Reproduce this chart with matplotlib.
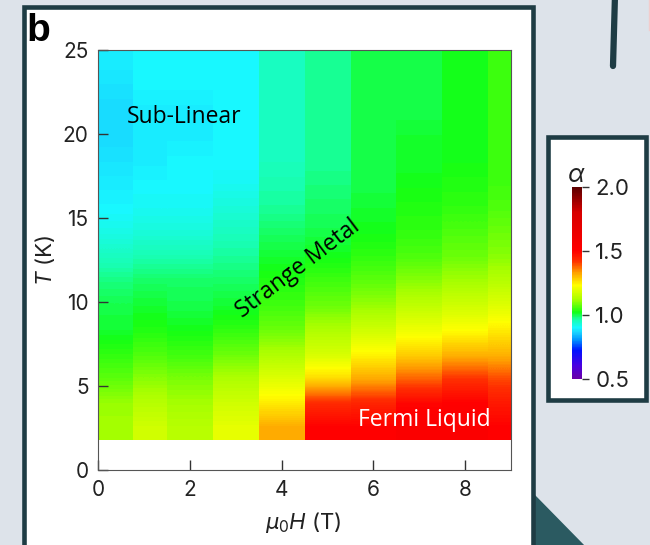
import numpy as np
import matplotlib
matplotlib.use("Agg")
import matplotlib.pyplot as plt
from matplotlib.colors import LinearSegmentedColormap, Normalize
from matplotlib.patches import Rectangle, Polygon
from matplotlib.lines import Line2D
from matplotlib.cm import ScalarMappable

plt.rcParams['font.family'] = ['Inter', 'DejaVu Sans']
plt.rcParams['mathtext.fontset'] = 'custom'
plt.rcParams['mathtext.rm'] = 'Inter'
plt.rcParams['mathtext.it'] = 'Inter:italic'

# field columns (T) and temperature range (K)
field_edges = [0.0, 0.75, 1.5, 2.5, 3.5, 4.5, 5.5, 6.5, 7.5, 8.5, 9.0]
t_min, t_max = 1.8, 25.0

# exponent alpha per field column, rows from low to high temperature
alpha_cols = [
    [1.12, 1.11, 1.07, 1.04, 1.01, 1.00, 0.98, 0.95, 0.92, 0.90, 0.89, 0.88, 0.87, 0.87, 0.88, 0.89],
    [1.17, 1.14, 1.10, 1.06, 1.03, 1.01, 0.99, 0.96, 0.93, 0.91, 0.90, 0.89, 0.89, 0.89, 0.90, 0.90],
    [1.14, 1.12, 1.09, 1.05, 1.02, 1.00, 0.99, 0.96, 0.93, 0.91, 0.90, 0.90, 0.89, 0.89, 0.90, 0.90],
    [1.20, 1.17, 1.13, 1.08, 1.04, 1.01, 0.99, 0.97, 0.95, 0.93, 0.91, 0.90, 0.90, 0.90, 0.90, 0.90],
    [1.32, 1.25, 1.19, 1.13, 1.08, 1.05, 1.03, 1.01, 0.99, 0.97, 0.96, 0.95, 0.95, 0.95, 0.95, 0.95],
    [1.50, 1.43, 1.27, 1.18, 1.13, 1.08, 1.05, 1.02, 1.00, 0.99, 0.98, 0.97, 0.97, 0.97, 0.97, 0.97],
    [1.50, 1.44, 1.32, 1.24, 1.17, 1.11, 1.07, 1.04, 1.02, 1.01, 1.00, 1.00, 1.00, 1.00, 1.00, 1.00],
    [1.53, 1.49, 1.38, 1.28, 1.21, 1.15, 1.10, 1.06, 1.04, 1.03, 1.02, 1.01, 1.01, 1.00, 1.00, 1.00],
    [1.53, 1.50, 1.42, 1.31, 1.23, 1.17, 1.12, 1.08, 1.06, 1.04, 1.03, 1.02, 1.02, 1.02, 1.02, 1.02],
    [1.50, 1.46, 1.40, 1.31, 1.25, 1.19, 1.14, 1.10, 1.08, 1.06, 1.05, 1.05, 1.05, 1.05, 1.05, 1.05],
]

cbar_ticks = [0.5, 1.0, 1.5, 2.0]

# rainbow map for alpha
stops = [(0.5, '#6a00a8'), (0.6, '#4a00e0'), (0.72, '#0010ff'), (0.8, '#0090ff'),
         (0.86, '#18d2ff'), (0.9, '#18f8ff'), (0.96, '#18ffb0'), (1.02, '#14ff14'),
         (1.12, '#a8ff00'), (1.23, '#ffff00'), (1.33, '#ffa000'), (1.42, '#ff3000'),
         (1.5, '#ff0000'), (1.8, '#d80000'), (2.0, '#5a0000')]
cmap = LinearSegmentedColormap.from_list(
    'alpha_rainbow', [((v - 0.5) / 1.5, c) for v, c in stops])
norm = Normalize(0.5, 2.0)

W, H = 650, 545
fig = plt.figure(figsize=(6.5, 5.45), dpi=100)
fig.patch.set_facecolor('#dde3ea')

def fx(px):
    return px / W

def fy(py):
    return 1 - py / H

dark = '#1e3c44'

# background decorations
fig.add_artist(Polygon([(fx(535), fy(495)), (fx(587), fy(548)), (fx(535), fy(548))],
                       closed=True, facecolor='#2b5a61', edgecolor='none',
                       transform=fig.transFigure, zorder=-3))
fig.add_artist(Line2D([fx(615), fx(613)], [fy(-5), fy(66)], color=dark, lw=4.5,
                      solid_capstyle='round', transform=fig.transFigure, zorder=-3))
fig.add_artist(Line2D([fx(649), fx(649)], [fy(0), fy(30)], color='#f2cccc', lw=1,
                      transform=fig.transFigure, zorder=-3))

# white panels with dark frames
fig.add_artist(Rectangle((fx(24), fy(560)), fx(533) - fx(24), fy(7) - fy(560),
                         facecolor='white', edgecolor=dark, lw=3.3,
                         transform=fig.transFigure, zorder=-1))
fig.add_artist(Rectangle((fx(548), fy(400)), fx(646) - fx(548), fy(137) - fy(400),
                         facecolor='white', edgecolor=dark, lw=3.3,
                         transform=fig.transFigure, zorder=-1))

ax = fig.add_axes([fx(98.3), fy(470), fx(511) - fx(98.3), fy(50.3) - fy(470)])
ax.set_facecolor('white')

for i, col in enumerate(alpha_cols):
    data = np.array(col)[::-1].reshape(-1, 1)
    ax.imshow(data, cmap=cmap, norm=norm, aspect='auto', origin='upper',
              extent=[field_edges[i], field_edges[i + 1], t_min, t_max],
              interpolation='bilinear', interpolation_stage='data')

ax.set_xlim(0, 9)
ax.set_ylim(0, 25)
ax.set_xticks([0, 2, 4, 6, 8])
ax.set_yticks([0, 5, 10, 15, 20, 25])
ax.tick_params(direction='in', length=7, width=1, labelsize=15, pad=7,
               color='#333333', labelcolor='#222222')
ax.tick_params(axis='x', pad=7)
for s in ax.spines.values():
    s.set_color('#555555')
    s.set_linewidth(0.8)

ax.set_xlabel(r'$\mu_0H$ (T)', fontsize=16, color='#222222')
ax.set_ylabel(r'$T$ (K)', fontsize=16, color='#222222')
ax.xaxis.set_label_coords(0.496, -0.095)
ax.yaxis.set_label_coords(-0.1, 0.5)

# regime labels
ax.text(0.63, 21.0, 'Sub-Linear', fontsize=16.5, family='Open Sans', va='center', ha='left')
ax.text(4.36, 12.0, 'Strange Metal', fontsize=16.5, family='Open Sans', rotation=37,
        ha='center', va='center')
ax.text(8.55, 3.0, 'Fermi Liquid', fontsize=16.5, family='Open Sans', color='white',
        ha='right', va='center')

fig.text(fx(26), fy(13), 'b', fontsize=28, fontweight='bold', family='Liberation Sans',
         va='top', ha='left')

# colorbar
cax = fig.add_axes([fx(572), fy(379), fx(581.5) - fx(572), fy(186.7) - fy(379)])
cb = fig.colorbar(ScalarMappable(norm=norm, cmap=cmap), cax=cax, ticks=cbar_ticks)
cb.ax.set_yticklabels(['0.5', '1.0', '1.5', '2.0'])
cb.ax.tick_params(length=5, width=1, labelsize=16, pad=5, color='#333333',
                  labelcolor='#222222')
cb.outline.set_visible(False)
cax.set_title(r'$\alpha$', fontsize=18, pad=2, color='#222222')

fig.savefig('out.png', dpi=100, facecolor=fig.get_facecolor())
